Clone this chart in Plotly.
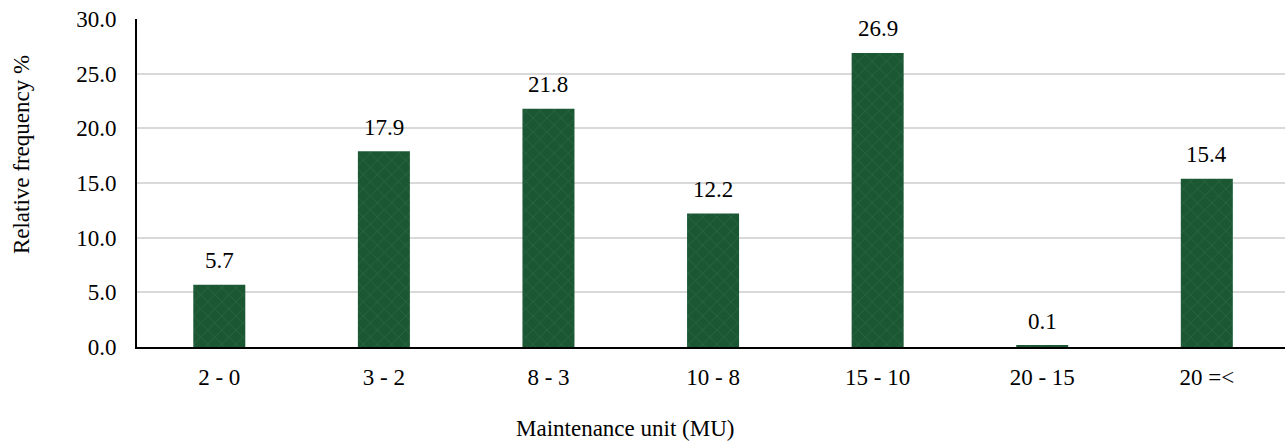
import plotly.graph_objects as go

categories = ["2 - 0", "3 - 2", "8 - 3", "10 - 8", "15 - 10", "20 - 15", "20 =<"]
values = [5.7, 17.9, 21.8, 12.2, 26.9, 0.1, 15.4]
y_ticks = [0, 5, 10, 15, 20, 25, 30]
y_tick_labels = ["0.0", "5.0", "10.0", "15.0", "20.0", "25.0", "30.0"]
x_title = "Maintenance unit (MU)"
y_title = "Relative frequency %"

FONT = "Liberation Serif"
SIZE = 23

fig = go.Figure()
# marble-green bars: dark base with a lighter vein pattern laid over it
fig.add_trace(go.Bar(
    x=categories,
    y=values,
    marker=dict(
        color="#1b5733",
        line=dict(width=0),
        pattern=dict(shape="x", fgcolor="#3e8259", size=10, solidity=0.12,
                     fillmode="overlay"),
    ),
    hoverinfo="x+y",
))

# value labels above each bar
for c, v in zip(categories, values):
    fig.add_annotation(
        x=c, y=v, text=f"{v:.1f}", showarrow=False,
        yanchor="middle", yshift=24,
        font=dict(family=FONT, size=SIZE, color="#000000"),
    )

# axis titles
fig.add_annotation(
    xref="paper", yref="paper", x=0.425, y=0, yshift=-81,
    text=x_title, showarrow=False, xanchor="center", yanchor="middle",
    font=dict(family=FONT, size=SIZE, color="#000000"),
)
fig.add_annotation(
    xref="paper", yref="paper", x=0, xshift=-116, y=0.585,
    text=y_title, textangle=-90, showarrow=False,
    xanchor="center", yanchor="middle",
    font=dict(family=FONT, size=SIZE, color="#000000"),
)

fig.update_layout(
    width=1285, height=443,
    margin=dict(l=137, r=0, t=19, b=96),
    paper_bgcolor="white", plot_bgcolor="white",
    bargap=0.684,
    showlegend=False,
    font=dict(family=FONT, size=SIZE, color="#000000"),
)
fig.update_xaxes(
    range=[-0.5, 6.475],
    showline=True, linecolor="#000000", linewidth=2,
    showgrid=False, ticks="",
    ticklabelstandoff=8,
    tickfont=dict(family=FONT, size=SIZE, color="#000000"),
)
fig.update_yaxes(
    range=[0, 30],
    tickvals=y_ticks, ticktext=y_tick_labels,
    showline=True, linecolor="#000000", linewidth=2,
    showgrid=True, gridcolor="#d9d9d9", gridwidth=1.5,
    zeroline=False, ticks="",
    ticklabelstandoff=14,
    tickfont=dict(family=FONT, size=SIZE, color="#000000"),
)

fig.write_html("out.html")
